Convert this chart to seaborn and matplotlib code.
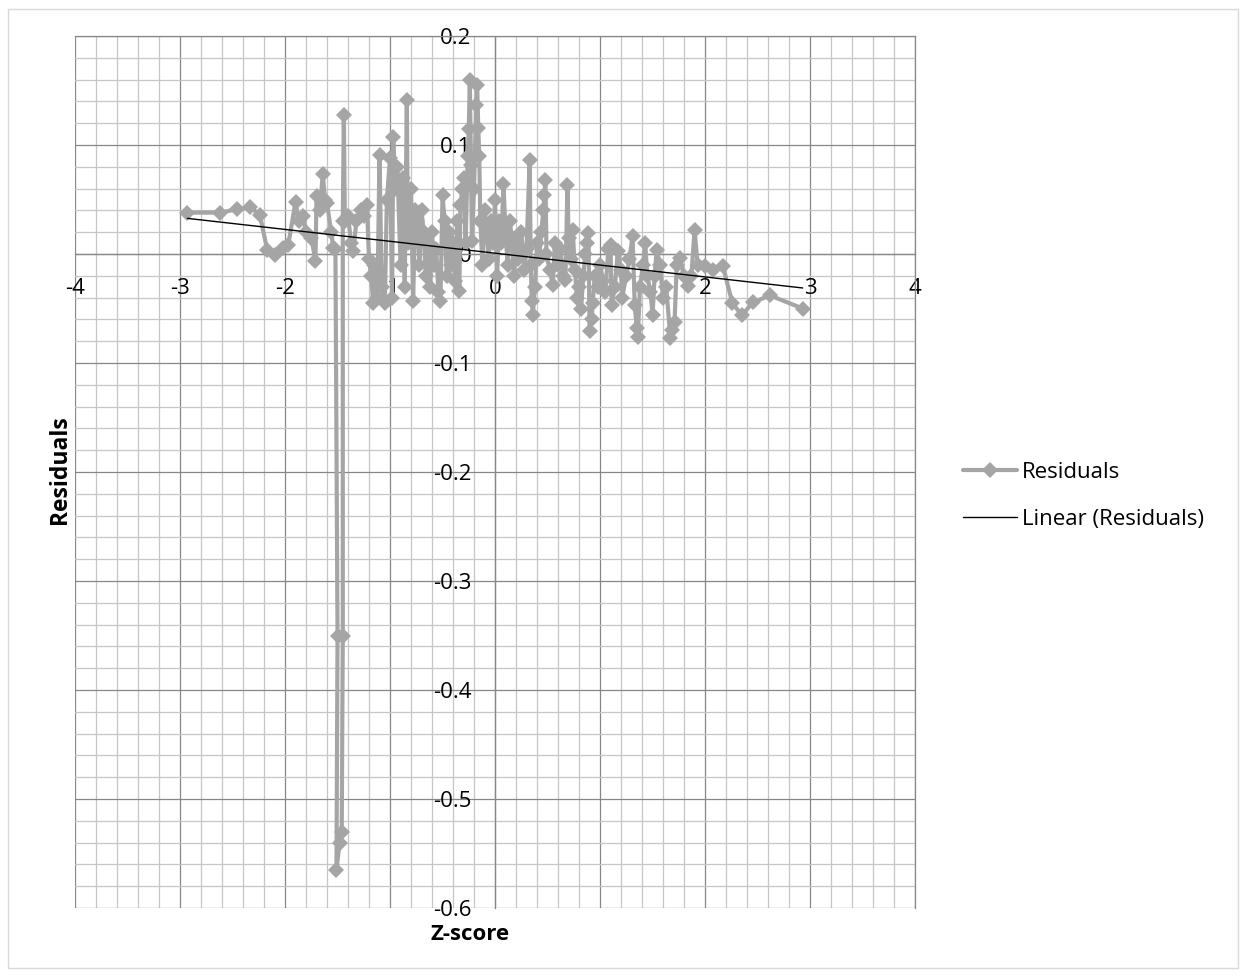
import matplotlib

matplotlib.use("Agg")

import matplotlib.pyplot as plt
import numpy as np
import pandas as pd
import seaborn as sns
from matplotlib.patches import Rectangle
from matplotlib.ticker import FuncFormatter, MultipleLocator

# residuals in plotting order
z_score = [
    -2.93, -2.62, -2.46, -2.33, -2.24, -2.17, -2.10, -2.02, -1.97, -1.90,
    -1.87, -1.83, -1.80, -1.75, -1.71, -1.70, -1.67, -1.64, -1.62, -1.60,
    -1.56, -1.54, -1.52, -1.50, -1.51, -1.48, -1.46, -1.45, -1.45, -1.44,
    -1.43, -1.40, -1.37, -1.35, -1.32, -1.28, -1.25, -1.22, -1.20, -1.18,
    -1.16, -1.15, -1.12, -1.10, -1.08, -1.05, -1.03, -1.00, -0.98, -0.97,
    -0.95, -0.93, -0.90, -0.88, -0.86, -0.84, -0.83, -0.80, -0.78, -0.76,
    -0.74, -0.72, -0.70, -0.68, -0.66, -0.64, -0.62, -0.60, -0.58, -0.56,
    -0.54, -0.52, -0.50, -0.48, -0.46, -0.44, -0.42, -0.40, -0.38, -0.36,
    -0.34, -0.33, -0.31, -0.30, -0.28, -0.26, -0.25, -0.24, -0.23, -0.22,
    -0.20, -0.18, -0.17, -0.16, -0.15, -0.14, -0.12, -0.10, -0.08, -0.06,
    -0.04, -0.02, 0.00, 0.02, 0.04, 0.06, 0.08, 0.10, 0.12, 0.14,
    0.16, 0.18, 0.20, 0.22, 0.25, 0.28, 0.30, 0.33, 0.34, 0.35,
    0.36, 0.38, 0.40, 0.42, 0.44, 0.46, 0.47, 0.48, 0.49, 0.52,
    0.55, 0.57, 0.60, 0.62, 0.65, 0.67, 0.69, 0.70, 0.72, 0.74,
    0.76, 0.78, 0.80, 0.82, 0.84, 0.86, 0.88, 0.89, 0.90, 0.92,
    0.93, 0.95, 0.98, 1.00, 1.03, 1.05, 1.08, 1.10, 1.11, 1.14,
    1.17, 1.20, 1.21, 1.25, 1.28, 1.31, 1.33, 1.35, 1.36, 1.38,
    1.41, 1.43, 1.45, 1.48, 1.50, 1.52, 1.54, 1.57, 1.60, 1.63,
    1.67, 1.69, 1.71, 1.73, 1.76, 1.80, 1.84, 1.87, 1.90, 1.93,
    2.00, 2.08, 2.17, 2.26, 2.35, 2.46, 2.62, 2.93,
]
residuals = [
    0.038, 0.038, 0.041, 0.043, 0.036, 0.004, -0.001, 0.006, 0.008, 0.048,
    0.030, 0.035, 0.020, 0.015, -0.006, 0.053, 0.040, 0.073, 0.050, 0.047,
    0.020, 0.006, 0.005, -0.350, -0.565, -0.540, -0.530, -0.350, 0.030, 0.128,
    0.030, 0.035, 0.010, 0.003, 0.030, 0.040, 0.035, 0.045, -0.005, -0.020,
    -0.045, -0.010, -0.040, 0.091, -0.030, -0.045, 0.050, 0.088, -0.040, 0.107,
    0.060, 0.080, -0.010, 0.070, -0.030, 0.141, 0.010, 0.060, -0.043, 0.040,
    0.030, -0.010, 0.040, 0.020, -0.020, 0.010, -0.030, 0.020, -0.010, 0.005,
    -0.035, -0.043, 0.054, 0.030, -0.020, 0.020, -0.010, 0.010, -0.025, 0.030,
    -0.034, 0.045, 0.060, 0.070, 0.010, 0.090, 0.115, 0.160, 0.082, 0.012,
    0.060, 0.137, 0.155, 0.116, 0.090, 0.030, -0.010, 0.040, 0.020, -0.005,
    0.030, 0.010, 0.050, -0.020, 0.030, 0.010, 0.064, 0.020, -0.010, 0.030,
    0.015, -0.020, 0.010, -0.005, 0.020, -0.015, 0.005, 0.086, -0.010, -0.043,
    -0.056, -0.030, 0.010, -0.005, 0.020, 0.040, 0.054, 0.068, 0.000, -0.015,
    -0.028, 0.010, -0.010, 0.005, -0.020, -0.024, 0.063, 0.015, -0.005, 0.022,
    -0.015, -0.040, -0.030, -0.050, -0.020, 0.000, 0.010, 0.019, -0.071, -0.060,
    -0.045, -0.020, -0.030, -0.010, -0.025, -0.035, 0.005, 0.008, -0.047, -0.030,
    0.003, -0.015, -0.040, -0.020, -0.005, 0.017, -0.047, -0.068, -0.076, -0.030,
    -0.010, 0.010, -0.020, -0.035, -0.056, -0.020, 0.004, -0.010, -0.040, -0.030,
    -0.077, -0.070, -0.062, -0.010, -0.004, -0.020, -0.029, -0.020, 0.022, -0.010,
    -0.011, -0.015, -0.011, -0.045, -0.056, -0.044, -0.038, -0.050,
]

# linear trendline as shown in the chart
trend_slope = -0.0109
trend_intercept = 0.0008

df = pd.DataFrame({"z": z_score, "res": residuals})
trend = pd.DataFrame({"z": [min(z_score), max(z_score)]})
trend["res"] = trend_intercept + trend_slope * trend["z"]

sns.set_theme(style="white")
plt.rcParams["font.family"] = ["Open Sans", "DejaVu Sans"]
plt.rcParams["axes.unicode_minus"] = False
plt.rcParams["text.color"] = "black"

fig = plt.figure(figsize=(12.46, 9.77), dpi=100)
ax = fig.add_axes([0.0602, 0.0706, 0.6742, 0.8925])

sns.lineplot(
    data=df, x="z", y="res", ax=ax, sort=False, estimator=None,
    color="#A5A5A5", linewidth=3.0, marker="D", markersize=8,
    markeredgewidth=0, label="Residuals", zorder=3,
)
sns.lineplot(
    data=trend, x="z", y="res", ax=ax, color="black", linewidth=1.0,
    label="Linear (Residuals)", zorder=4,
)

ax.set_xlim(-4, 4)
ax.set_ylim(-0.6, 0.2)
ax.xaxis.set_major_locator(MultipleLocator(1))
ax.xaxis.set_minor_locator(MultipleLocator(0.2))
ax.yaxis.set_major_locator(MultipleLocator(0.1))
ax.yaxis.set_minor_locator(MultipleLocator(0.02))
ax.xaxis.set_major_formatter(FuncFormatter(lambda v, p: f"{v:g}"))
ax.yaxis.set_major_formatter(FuncFormatter(lambda v, p: f"{round(v, 2):g}"))

ax.set_axisbelow(True)
ax.grid(which="minor", color="#C6C6C6", linewidth=0.9)
ax.grid(which="major", color="#878787", linewidth=0.9)

ax.spines["left"].set_position(("data", 0))
ax.spines["bottom"].set_position(("data", 0))
for side in ["left", "bottom", "top", "right"]:
    ax.spines[side].set_color("#878787")
    ax.spines[side].set_linewidth(0.9)

ax.tick_params(axis="x", which="both", length=0, pad=17, labelsize=16, colors="black")
ax.tick_params(axis="y", which="both", length=0, pad=17, labelsize=16, colors="black")
ax.set_xlabel("")
ax.set_ylabel("")

handles, labels = ax.get_legend_handles_labels()
ax.get_legend().remove()
fig.legend(
    handles, labels, loc="upper left", bbox_to_anchor=(963 / 1246, 1 - 462 / 977),
    frameon=False, fontsize=16, handlelength=2.45, handletextpad=0.22,
    labelspacing=1.15, borderpad=0, borderaxespad=0, numpoints=1,
    labelcolor="black",
)

fig.text(470 / 1246, 1 - 935 / 977, "Z-score", ha="center", va="center",
         fontsize=16, fontweight="bold", color="black")
fig.text(60 / 1246, 1 - 470 / 977, "Residuals", ha="center", va="center",
         fontsize=16.5, fontweight="bold", rotation=90, color="black")

fig.patches.append(Rectangle((8 / 1246, 9 / 977), 1230 / 1246, 959 / 977,
                             transform=fig.transFigure, fill=False,
                             edgecolor="#D9D9D9", linewidth=1))

fig.savefig("out.png", dpi=100)
plt.close(fig)
